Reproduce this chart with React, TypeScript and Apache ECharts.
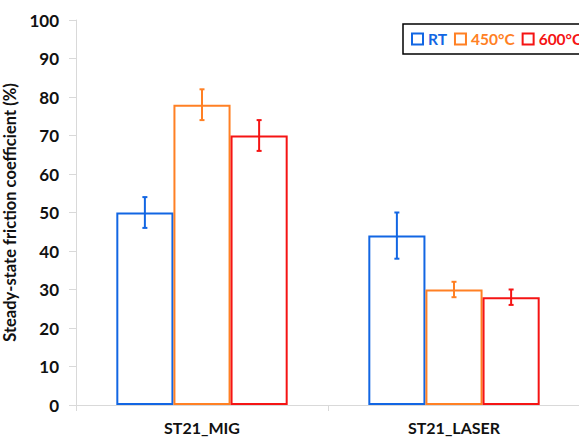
import React, { useEffect, useRef } from "react";
import * as echarts from "echarts";

const categories = ["ST21_MIG", "ST21_LASER"];
const seriesNames = ["RT", "450°C", "600°C"];
const rtValues = [50, 44];
const rtErrors = [4, 6];
const t450Values = [78, 30];
const t450Errors = [4, 2];
const t600Values = [70, 28];
const t600Errors = [4, 2];
const yTicks = [0, 10, 20, 30, 40, 50, 60, 70, 80, 90, 100];

const colors = ["#1266E3", "#FF8024", "#F51414"];
const FONT = "Lato";
const GAP = 0.32;

export default function App() {
  const ref = useRef<HTMLDivElement>(null);
  useEffect(() => {
    if (!ref.current) return;
    const chart = echarts.init(ref.current, null, { renderer: "svg" });
    const values = [rtValues, t450Values, t600Values];
    const errors = [rtErrors, t450Errors, t600Errors];

    const barSeries = seriesNames.map((name, k) => ({
      name,
      type: "bar",
      barGap: "0%",
      barCategoryGap: `${GAP * 100}%`,
      data: values[k],
      itemStyle: { color: "rgba(255,255,255,0)", borderColor: colors[k], borderWidth: 2 },
      emphasis: { disabled: true },
      z: 2 + k,
    }));

    const errSeries = seriesNames.map((name, k) => ({
      name: name + "_err",
      type: "custom",
      z: 10,
      data: categories.map((_, i) => [i, values[k][i] - errors[k][i], values[k][i] + errors[k][i]]),
      renderItem: (params: any, api: any) => {
        const ci = api.value(0);
        const lo = api.coord([ci, api.value(1)]);
        const hi = api.coord([ci, api.value(2)]);
        const band = api.size([1, 0])[0];
        const bw = (band * (1 - GAP)) / 3;
        const x = lo[0] + (k - 1) * bw;
        const cap = 2.5;
        const style = { stroke: colors[k], lineWidth: 2, fill: "none" };
        return {
          type: "group",
          children: [
            { type: "line", shape: { x1: x, y1: lo[1], x2: x, y2: hi[1] }, style },
            { type: "line", shape: { x1: x - cap, y1: lo[1], x2: x + cap, y2: lo[1] }, style },
            { type: "line", shape: { x1: x - cap, y1: hi[1], x2: x + cap, y2: hi[1] }, style },
          ],
        };
      },
    }));

    chart.setOption({
      animation: false,
      backgroundColor: "#fff",
      textStyle: { fontFamily: FONT },
      grid: { left: 76, right: -1, top: 20, bottom: 32, containLabel: false, outerBoundsMode: "none" },
      legend: {
        left: 403,
        top: 24,
        width: 400,
        padding: [7, 10, 7, 8],
        itemWidth: 11,
        itemHeight: 11,
        itemGap: 7,
        borderColor: "#000",
        borderWidth: 1.5,
        backgroundColor: "#fff",
        icon: "rect",
        data: seriesNames.map((n, k) => ({
          name: n,
          textStyle: { color: colors[k], fontWeight: "bold", fontSize: 15.5, fontFamily: FONT },
          itemStyle: { color: "#fff", borderColor: colors[k], borderWidth: 2 },
        })),
      },
      xAxis: {
        type: "category",
        data: categories,
        axisLine: { lineStyle: { color: "#d9d9d9", width: 1 } },
        axisTick: { show: true, length: 6, lineStyle: { color: "#d9d9d9" } },
        axisLabel: { fontWeight: "bold", fontSize: 16, color: "#111", margin: 14, fontFamily: FONT },
        splitLine: { show: false },
      },
      yAxis: {
        type: "value",
        min: yTicks[0],
        max: yTicks[yTicks.length - 1],
        interval: 10,
        name: "Steady-state friction coefficient (%)",
        nameLocation: "middle",
        nameGap: 54,
        nameTextStyle: { fontWeight: "bold", fontSize: 16.5, color: "#111", fontFamily: FONT },
        axisLine: { show: true, lineStyle: { color: "#d9d9d9", width: 1 } },
        axisTick: { show: true, length: 7, lineStyle: { color: "#d9d9d9" } },
        axisLabel: { fontWeight: "bold", fontSize: 17, color: "#111", margin: 17, fontFamily: FONT },
        splitLine: { show: false },
      },
      series: [...barSeries, ...errSeries],
    });
    return () => chart.dispose();
  }, []);
  return (
    <div
      ref={ref}
      style={{ position: "fixed", left: 0, top: 0, width: 579, height: 437 }}
    />
  );
}
